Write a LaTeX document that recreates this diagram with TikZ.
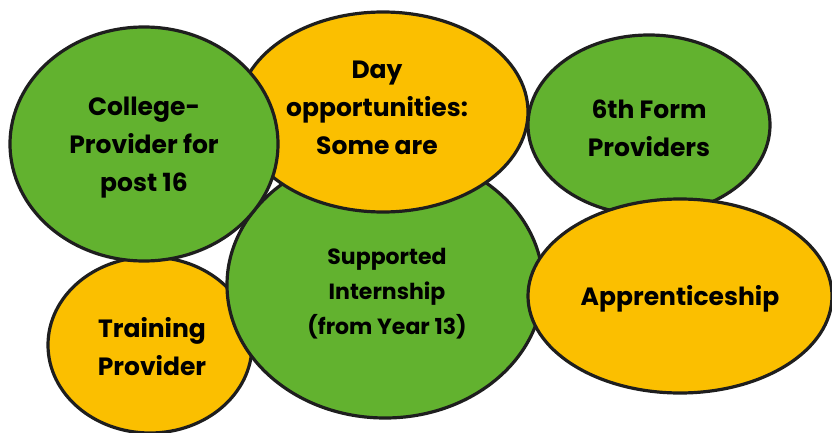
\documentclass[tikz,border=0pt]{standalone}
\usepackage{fontspec}
\setmainfont{Poppins}
\usetikzlibrary{shapes.geometric}
\definecolor{bgreen}{HTML}{62B22F}
\definecolor{borange}{HTML}{FBBF00}
\definecolor{outl}{HTML}{1E1E1E}
\tikzset{
  bubble/.style={ellipse, draw=outl, line width=3.2pt, inner sep=0pt},
  gbub/.style={bubble, fill=bgreen},
  obub/.style={bubble, fill=borange},
  txt/.style={align=center, inner sep=0pt, text=black, font=\bfseries\fontsize{25}{38}\selectfont},
}
\begin{document}
\begin{tikzpicture}[x=1pt,y=-1pt]
\useasboundingbox (0,0) rectangle (832,433);
\node[obub, minimum width=204pt, minimum height=176pt] (train) at (150,345) {};
\node[txt] (traint) at ([xshift=2pt,yshift=-2pt]train.center) {Training\\Provider};
\node[gbub, minimum width=316pt, minimum height=266pt] (supp) at (385,285) {};
\node[txt, font=\bfseries\fontsize{22}{35}\selectfont] (suppt) at ([xshift=2pt,yshift=-9pt]supp.center) {Supported\\Internship\\(from Year 13)};
\node[obub, minimum width=290pt, minimum height=200pt] (day) at (383,112) {};
\node[txt] (dayt) at ([xshift=-6pt,yshift=4pt]day.center) {Day\\opportunities:\\Some are};
\node[gbub, minimum width=268pt, minimum height=234pt] (coll) at (144,144) {};
\node[txt] (collt) at ([yshift=-4pt]coll.center) {College-\\Provider for\\post 16};
\node[gbub, minimum width=242pt, minimum height=180pt] (sixth) at (649,125) {};
\node[txt] (sixtht) at ([yshift=-3pt]sixth.center) {6th Form\\Providers};
\node[obub, minimum width=304pt, minimum height=194pt] (appr) at (680,296) {};
\node[txt] (apprt) at ([yshift=-3pt]appr.center) {Apprenticeship};
\end{tikzpicture}
\end{document}
